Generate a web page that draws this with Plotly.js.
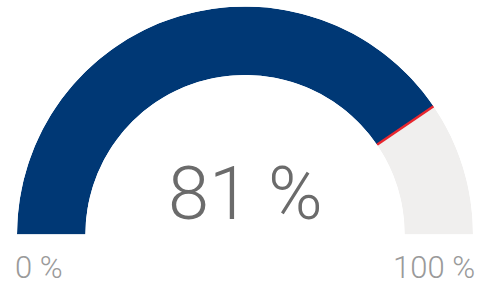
<!DOCTYPE html>
<html>
<head>
<meta charset="utf-8">
<script src="https://cdn.plot.ly/plotly-3.0.1.min.js"></script>
<style>html,body{margin:0;padding:0;background:#fff;}#chart{width:478px;height:286px;}</style>
</head>
<body>
<div id="chart"></div>
<script>
// Data
const gaugeMin = 0;
const gaugeMax = 100;
const gaugeValue = 81;
const targetValue = 81;
const minLabel = "0 %";
const maxLabel = "100 %";
const valueLabel = "81 %";

// map value -> degrees (0 at left, 180 at right, clockwise)
const toDeg = v => (v - gaugeMin) / (gaugeMax - gaugeMin) * 180;

const vDeg = toDeg(gaugeValue);
const maxDeg = toDeg(gaugeMax);
const tDeg = toDeg(targetValue);

const traces = [
  {
    type: 'barpolar',
    r: [1, 1],
    theta: [vDeg / 2, (vDeg + maxDeg) / 2],
    width: [vDeg, maxDeg - vDeg],
    marker: {color: ['#003875', '#F0EFEE'], line: {width: 0}},
    hoverinfo: 'skip',
    showlegend: false
  },
  {
    type: 'scatterpolar',
    mode: 'lines',
    r: [0, 1],
    theta: [tDeg, tDeg],
    line: {color: '#E8262E', width: 2.5},
    hoverinfo: 'skip',
    showlegend: false
  }
];

const W = 478, H = 286;
const cx = 245, cy = 234.5, R = 228;

const layout = {
  width: W, height: H,
  margin: {l: 0, r: 0, t: 0, b: 0, pad: 0},
  paper_bgcolor: '#ffffff',
  plot_bgcolor: '#ffffff',
  showlegend: false,
  polar: {
    domain: {x: [(cx - R) / W, (cx + R) / W], y: [(H - cy) / H, (H - cy + R) / H]},
    sector: [0, 180],
    hole: 0.70,
    bgcolor: 'rgba(0,0,0,0)',
    bargap: 0,
    radialaxis: {range: [0, 1], visible: false, showgrid: false},
    angularaxis: {visible: false, showgrid: false, direction: 'clockwise', rotation: 180}
  },
  annotations: [
    {text: valueLabel, xref: 'paper', yref: 'paper', x: cx / W, y: (H - 193) / H,
     xanchor: 'center', yanchor: 'middle', showarrow: false,
     font: {family: 'Roboto, "DejaVu Sans", sans-serif', size: 74, color: '#6b6b6b', weight: 300}},
    {text: minLabel, xref: 'paper', yref: 'paper', x: 13 / W, y: (H - 267.5) / H,
     xanchor: 'left', yanchor: 'middle', showarrow: false,
     font: {family: 'Roboto, "DejaVu Sans", sans-serif', size: 31, color: '#9a9a9a', weight: 300}},
    {text: maxLabel, xref: 'paper', yref: 'paper', x: 477 / W, y: (H - 267.5) / H,
     xanchor: 'right', yanchor: 'middle', showarrow: false,
     font: {family: 'Roboto, "DejaVu Sans", sans-serif', size: 31, color: '#9a9a9a', weight: 300}}
  ]
};

Plotly.newPlot('chart', traces, layout, {displayModeBar: false, staticPlot: true});
</script>
</body>
</html>
